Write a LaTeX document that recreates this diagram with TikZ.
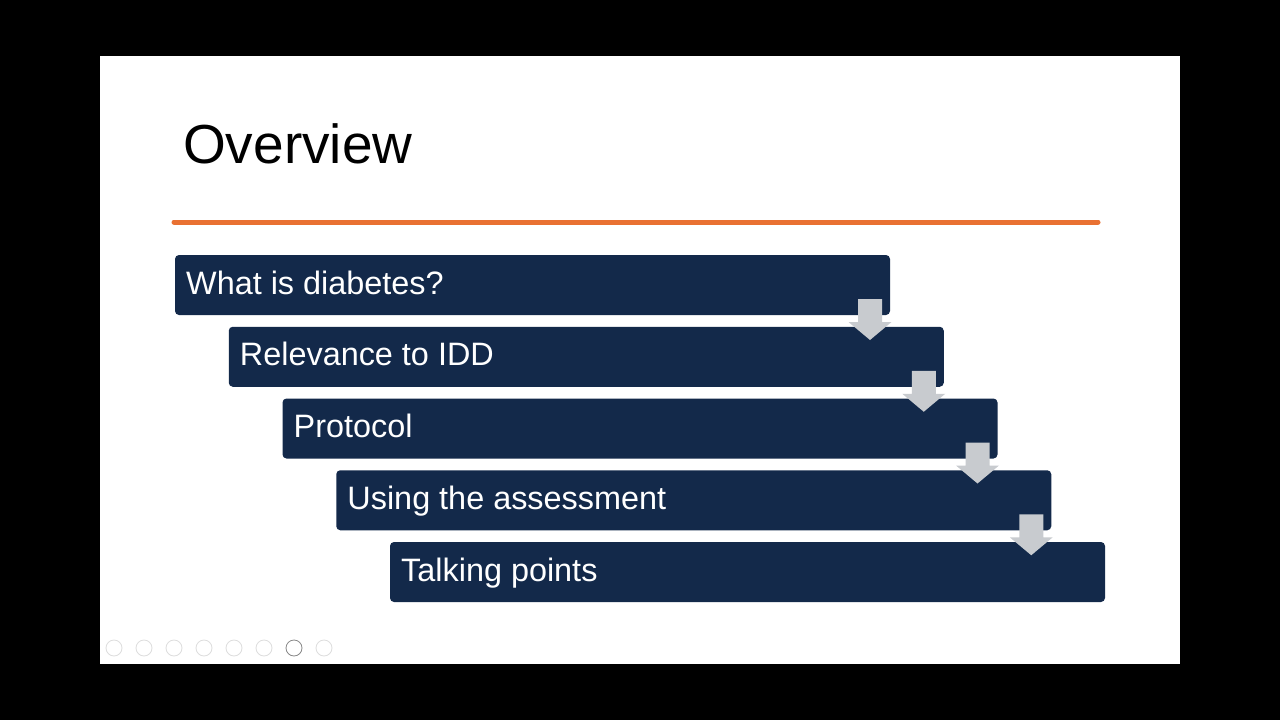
\documentclass[tikz,border=0pt]{standalone}
\usepackage{fontspec}
\setmainfont{Liberation Sans}
\definecolor{navy}{HTML}{13294A}
\definecolor{accent}{HTML}{E97132}
\definecolor{arrowgray}{HTML}{C8CBCF}
\definecolor{icongray}{HTML}{DDDDDD}
\definecolor{icondark}{HTML}{888888}
\begin{document}
\begin{tikzpicture}[x=1pt,y=-1pt,
  stepbox/.style={fill=navy, rounded corners=4pt, minimum width=715pt, minimum height=60pt, inner sep=0pt, outer sep=0pt, draw=none},
  steptext/.style={anchor=base west, text=white, font=\fontsize{32.4}{36}\selectfont, inner sep=0pt},
  downarrow/.style={fill=arrowgray, draw=none},
  icon/.style={circle, draw=icongray, line width=0.8pt, minimum size=16pt, inner sep=0pt}
]
\useasboundingbox (0,0) rectangle (1280,720);
\fill[black] (0,0) rectangle (1280,720);
\fill[white] (100,56) rectangle (1180,664);

\node[anchor=base west, inner sep=0pt, font=\fontsize{55}{60}\selectfont] (title) at (183,163) {Overview};
\coordinate (lineL) at (174,222);
\coordinate (lineR) at (1098,222);
\draw[accent, line width=5pt, line cap=round] (lineL) -- (lineR);

\foreach \i/\t in {0/{What is diabetes?},1/{Relevance to IDD},2/{Protocol},3/{Using the assessment},4/{Talking points}}{
  \pgfmathsetmacro{\bx}{175+53.75*\i}
  \pgfmathsetmacro{\by}{255+71.75*\i}
  \node[stepbox, anchor=north west] (b\i) at (\bx,\by) {};
  \node[steptext] (t\i) at ([xshift=11pt,yshift=-39pt]b\i.north west) {\t};
}

\foreach \i in {0,1,2,3}{
  \path ([xshift=-20pt]b\i.south east) coordinate (a\i);
  \fill[downarrow] ([xshift=-12pt,yshift=16pt]a\i) -- ([xshift=12pt,yshift=16pt]a\i)
     -- ([xshift=12pt,yshift=-7pt]a\i) -- ([xshift=21.5pt,yshift=-7pt]a\i)
     -- ([yshift=-25pt]a\i) -- ([xshift=-21.5pt,yshift=-7pt]a\i)
     -- ([xshift=-12pt,yshift=-7pt]a\i) -- cycle;
}

\foreach \k in {0,1,2,3,4,5,7}{
  \node[icon] (ic\k) at (114+30*\k,648) {};
}
\node[icon, draw=icondark] (ic6) at (294,648) {};
\end{tikzpicture}
\end{document}
